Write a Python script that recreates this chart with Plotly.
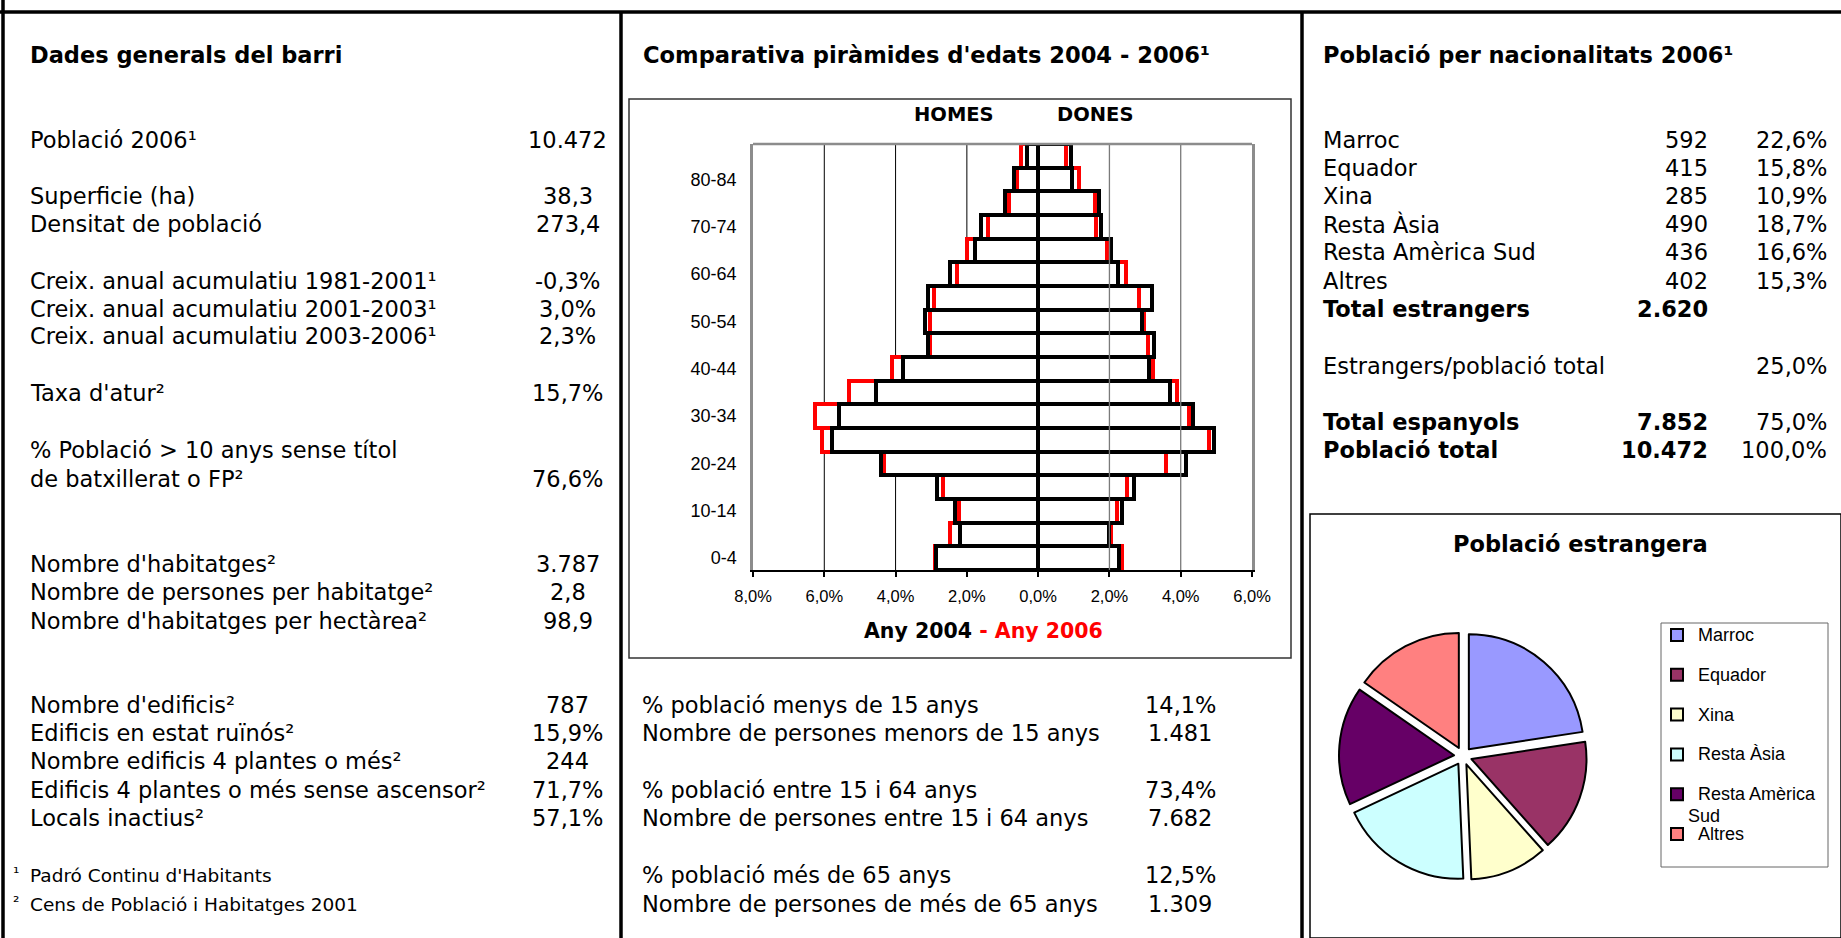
import plotly.graph_objects as go

# piràmide d'edats, % sobre la població total (de baix a dalt)
edats = ["0-4", "5-9", "10-14", "15-19", "20-24", "25-29", "30-34", "35-39", "40-44",
         "45-49", "50-54", "55-59", "60-64", "65-69", "70-74", "75-79", "80-84", "85+"]
homes_2004 = [2.87, 2.19, 2.34, 2.84, 4.42, 5.78, 5.58, 4.56, 3.78, 3.10, 3.17, 3.10, 2.46, 1.76, 1.59, 0.93, 0.69, 0.30]
dones_2004 = [2.28, 2.00, 2.34, 2.70, 4.15, 4.94, 4.34, 3.69, 3.10, 3.25, 2.90, 3.19, 2.24, 2.03, 1.76, 1.71, 0.94, 0.92]
homes_2006 = [2.89, 2.46, 2.23, 2.67, 4.32, 6.07, 6.27, 5.31, 4.09, 3.04, 3.04, 2.93, 2.28, 1.99, 1.41, 0.83, 0.59, 0.48]
dones_2006 = [2.34, 2.05, 2.20, 2.49, 3.58, 4.80, 4.24, 3.89, 3.23, 3.08, 2.98, 2.82, 2.47, 1.93, 1.62, 1.60, 1.15, 0.78]
ticks_pct = [-8, -6, -4, -2, 0, 2, 4, 6]

# població per nacionalitats 2006
nacions = ["Marroc", "Equador", "Xina", "Resta Àsia", "Resta Amèrica Sud", "Altres"]
estrangers = [592, 415, 285, 490, 436, 402]
pct_nacions = [22.6, 15.8, 10.9, 18.7, 16.6, 15.3]
total_estrangers = 2620
pct_estrangers = 25.0
total_espanyols = 7852
pct_espanyols = 75.0
poblacio_total = 10472
colors_nacions = ["#9999FF", "#993366", "#FFFFCC", "#CCFFFF", "#660066", "#FF8080"]

# dades generals del barri
dades_labels = ["Població 2006¹", "Superficie (ha)", "Densitat de població",
                "Creix. anual acumulatiu 1981-2001¹", "Creix. anual acumulatiu 2001-2003¹",
                "Creix. anual acumulatiu 2003-2006¹", "Taxa d'atur²",
                "% Població &gt; 10 anys sense títol<br>de batxillerat o FP²",
                "Nombre d'habitatges²", "Nombre de persones per habitatge²",
                "Nombre d'habitatges per hectàrea²", "Nombre d'edificis²",
                "Edificis en estat ruïnós²", "Nombre edificis 4 plantes o més²",
                "Edificis 4 plantes o més sense ascensor²", "Locals inactius²"]
dades_valors = ["10.472", "38,3", "273,4", "-0,3%", "3,0%", "2,3%", "15,7%", "76,6%",
                "3.787", "2,8", "98,9", "787", "15,9%", "244", "71,7%", "57,1%"]
notes = ["Padró Continu d'Habitants", "Cens de Població i Habitatges 2001"]

grups_labels = ["% població menys de 15 anys", "Nombre de persones menors de 15 anys",
                "% població entre 15 i 64 anys", "Nombre de persones entre 15 i 64 anys",
                "% població més de 65 anys", "Nombre de persones de més de 65 anys"]
grups_valors = ["14,1%", "1.481", "73,4%", "7.682", "12,5%", "1.309"]

W, H = 1841, 938
FONT = "DejaVu Sans"
ARIAL = "Liberation Sans"


def fx(x):
    return x / W


def fy(y):
    return 1 - y / H


def num(n):
    return f"{n:,}".replace(",", ".")


def pct(v):
    return f"{v:.1f}%".replace(".", ",")


def txt(x, y, s, anchor="left", size=22.5, family=FONT, color="black", yanchor="middle"):
    return dict(x=fx(x), y=fy(y), xref="paper", yref="paper", text=s, showarrow=False,
                xanchor=anchor, yanchor=yanchor, align="left" if anchor == "left" else anchor,
                borderpad=0, borderwidth=0, font=dict(family=family, size=size, color=color))


def hline(x0, x1, y, w=3.5, color="black"):
    return dict(type="line", xref="paper", yref="paper", x0=fx(x0), x1=fx(x1), y0=fy(y), y1=fy(y),
                line=dict(color=color, width=w))


def vline(x, y0, y1, w=3.5, color="black"):
    return dict(type="line", xref="paper", yref="paper", x0=fx(x), x1=fx(x), y0=fy(y0), y1=fy(y1),
                line=dict(color=color, width=w))


def box(x0, y0, x1, y1, w=1.5, color="black"):
    return dict(type="rect", xref="paper", yref="paper", x0=fx(x0), x1=fx(x1), y0=fy(y1), y1=fy(y0),
                line=dict(color=color, width=w), fillcolor="rgba(0,0,0,0)")


fig = go.Figure()

# piràmide: primer el fons blanc de les barres, després els contorns
series = [(homes_2006, dones_2006, "red", "2006"), (homes_2004, dones_2004, "black", "2004")]
for homes, dones, col, any_ in series:
    for vals, sign in ((homes, -1), (dones, 1)):
        fig.add_trace(go.Bar(y=edats, x=[sign * v for v in vals], orientation="h", width=1,
                             marker=dict(color="white", line=dict(width=0)),
                             hoverinfo="skip", showlegend=False))
for homes, dones, col, any_ in series:
    for vals, sign, sexe in ((homes, -1, "Homes"), (dones, 1, "Dones")):
        fig.add_trace(go.Bar(y=edats, x=[sign * v for v in vals], orientation="h", width=1,
                             name=f"{sexe} {any_}",
                             marker=dict(color="rgba(0,0,0,0)", line=dict(color=col, width=4)),
                             customdata=vals,
                             hovertemplate="%{y}: %{customdata:.2f}%<extra>%{fullData.name}</extra>",
                             showlegend=False))

# pastís població estrangera
pie_cx, pie_cy, pie_half = 1463, 756, 124
fig.add_trace(go.Pie(labels=nacions, values=estrangers, sort=False, direction="clockwise",
                     rotation=0, pull=0.078, textinfo="none", showlegend=False,
                     marker=dict(colors=colors_nacions, line=dict(color="black", width=2)),
                     domain=dict(x=[fx(pie_cx - pie_half), fx(pie_cx + pie_half)],
                                 y=[fy(pie_cy + pie_half), fy(pie_cy - pie_half)])))

fig.update_layout(
    width=W, height=H, margin=dict(l=0, r=0, t=0, b=0, autoexpand=False),
    paper_bgcolor="white", plot_bgcolor="white",
    barmode="overlay", bargap=0, showlegend=False,
    xaxis=dict(domain=[fx(753), fx(1252)], range=[-8, 6], tickvals=ticks_pct,
               ticktext=[pct(abs(v)) for v in ticks_pct], ticks="outside", ticklen=5,
               tickwidth=1.5, tickcolor="black", ticklabelstandoff=5, automargin=False,
               showline=True, linecolor="black", linewidth=2, showgrid=False, zeroline=False,
               tickfont=dict(family=ARIAL, size=16.5, color="black"), fixedrange=True),
    yaxis=dict(domain=[fy(570), fy(144)], type="category", categoryorder="array",
               categoryarray=edats, range=[-0.5, len(edats) - 0.5], tickvals=edats[::2],
               ticks="", ticklabelstandoff=10, showline=True, linecolor="#8c8c8c", linewidth=2.5,
               mirror=True, showgrid=False, zeroline=False,
               tickfont=dict(family=ARIAL, size=18, color="black"), fixedrange=True,
               automargin=False),
)

shapes = []
# quadrícula: negra i darrere les barres als homes, grisa i per sobre a les dones
for v in [-6, -4, -2]:
    shapes.append(dict(type="line", xref="x", yref="y domain", x0=v, x1=v, y0=0, y1=1,
                       layer="below", line=dict(color="black", width=1)))
for v in [2, 4]:
    shapes.append(dict(type="line", xref="x", yref="y domain", x0=v, x1=v, y0=0, y1=1,
                       line=dict(color="#7a7a7a", width=1.3)))
shapes.append(dict(type="line", xref="x domain", yref="y domain", x0=0, x1=1, y0=1, y1=1,
                   line=dict(color="#8c8c8c", width=2.5)))

# marc de la pàgina
shapes += [hline(0, W, 12), vline(3, 0, H), vline(621, 12, H), vline(1302, 12, H)]
shapes.append(box(629, 99, 1291, 658, w=1.5, color="#333333"))
shapes.append(box(1310, 514, W, H, w=1.5))
shapes.append(box(1661, 623, 1828, 867, w=1, color="#666666"))

ann = []
# columna esquerra
ann.append(txt(30, 55, "<b>Dades generals del barri</b>", size=22.5))
ys_dades = [140, 196.5, 224, 280.5, 308.5, 336.5, 393, 478.5, 564, 592, 620.5,
            705, 733, 761, 789.5, 818]
for lab, val, y in zip(dades_labels, dades_valors, ys_dades):
    ly = y - 14.3 if "<br>" in lab else y
    ann.append(txt(30, ly, lab))
    ann.append(txt(567.5, y, val, anchor="center"))
for i, (nota, y) in enumerate(zip(notes, [875.5, 904])):
    ann.append(txt(13, y - 3, "¹²"[i], size=16))
    ann.append(txt(30, y, nota, size=18.5))

# columna central
ann.append(txt(643, 55, "<b>Comparativa piràmides d'edats 2004 - 2006¹</b>", size=22.6))
ann.append(txt(954.5, 114.5, "<b>HOMES</b>", anchor="center", size=19.5))
ann.append(txt(1095, 114.5, "<b>DONES</b>", anchor="center", size=19.5))
ann.append(txt(984, 631, "<b>Any 2004<span style='color:red'> - Any 2006</span></b>",
               anchor="center", size=20.5))
for lab, val, y in zip(grups_labels, grups_valors, [705, 733, 790, 818, 875, 903.5]):
    ann.append(txt(642, y, lab))
    ann.append(txt(1180, y, val, anchor="center"))

# columna dreta
ann.append(txt(1323, 55, "<b>Població per nacionalitats 2006¹</b>", size=22.5))
ys_nac = [140, 168, 196, 224, 252, 280.5]
for nom, n, p, y in zip(nacions, estrangers, pct_nacions, ys_nac):
    ann.append(txt(1323, y, nom))
    ann.append(txt(1708, y, num(n), anchor="right"))
    ann.append(txt(1827, y, pct(p), anchor="right"))
ann.append(txt(1323, 308.5, "<b>Total estrangers</b>"))
ann.append(txt(1708, 308.5, f"<b>{num(total_estrangers)}</b>", anchor="right"))
ann.append(txt(1323, 366, "Estrangers/població total"))
ann.append(txt(1827, 366, pct(pct_estrangers), anchor="right"))
ann.append(txt(1323, 421.5, "<b>Total espanyols</b>"))
ann.append(txt(1708, 421.5, f"<b>{num(total_espanyols)}</b>", anchor="right"))
ann.append(txt(1827, 421.5, pct(pct_espanyols), anchor="right"))
ann.append(txt(1323, 450, "<b>Població total</b>"))
ann.append(txt(1708, 450, f"<b>{num(poblacio_total)}</b>", anchor="right"))
ann.append(txt(1827, 450, pct(100.0), anchor="right"))

# pastís: títol i llegenda
ann.append(txt(1580.5, 544, "<b>Població estrangera</b>", anchor="center", size=22.5))
for i, (nom, col) in enumerate(zip(nacions, colors_nacions)):
    cy = 635 + i * 39.8
    shapes.append(dict(type="rect", xref="paper", yref="paper", x0=fx(1671), x1=fx(1683),
                       y0=fy(cy + 6), y1=fy(cy - 6), fillcolor=col,
                       line=dict(color="black", width=2)))
    linies = [nom] if len(nom) < 15 else nom.rsplit(" ", 1)
    for j, linia in enumerate(linies):
        ann.append(txt(1698 - 10 * j, cy + 21.7 * j, linia, size=18, family=ARIAL))

fig.update_layout(shapes=shapes, annotations=ann)
fig.write_html("out.html", config={"displayModeBar": False},
               post_script="document.body.style.margin='0';document.body.style.overflow='hidden';")
